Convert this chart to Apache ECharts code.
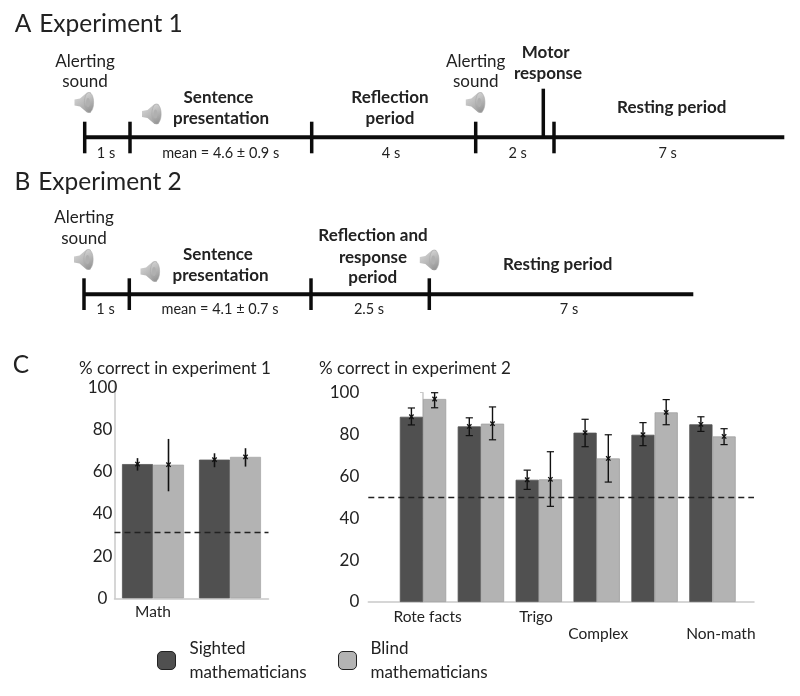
<!DOCTYPE html>
<html><head><meta charset="utf-8">
<style>html,body{margin:0;padding:0;background:#fff}#c{width:800px;height:696px}</style>
<script src="https://cdn.jsdelivr.net/npm/echarts@6/dist/echarts.min.js"></script>
</head><body><div id="c"></div>
<script>
const SIGHTED = 'Sighted mathematicians', BLIND = 'Blind mathematicians';
const exp1Categories = ['Math', 'Non-math'];
const exp1Sighted = [63.6, 65.7];
const exp1Blind = [63.3, 67.0];
const exp1SightedHigh = [66.4, 68.7];
const exp1SightedLow = [60.5, 62.1];
const exp1BlindHigh = [75.5, 71.1];
const exp1BlindLow = [50.7, 62.4];
const exp1Chance = 31.5;

const exp2Categories = ['Rote facts', 'Algebra', 'Trigo', 'Complex', 'Geometry', 'Non-math'];
const exp2Sighted = [88.5, 83.9, 58.4, 80.9, 79.9, 84.9];
const exp2Blind = [97.0, 85.2, 58.6, 68.6, 90.6, 79.1];
const exp2SightedHigh = [92.7, 88.0, 63.0, 87.3, 85.7, 88.5];
const exp2SightedLow = [84.6, 79.5, 53.8, 74.2, 74.7, 81.5];
const exp2BlindHigh = [100, 93.2, 71.8, 79.9, 96.7, 82.8];
const exp2BlindLow = [92.8, 77.5, 45.7, 57.3, 84.7, 75.2];
const exp2Chance = 50;
const exp2LabelShift = [0.08, 0.035, -0.047, 0.026, 0.045, 0.145];

const FONT = 'Lato, "Open Sans", sans-serif';
const INK = '#222';
const DARK = '#505050', LIGHT = '#b3b3b3';

function errorSeries(highs, lows, means, side, halfBar, cap, grid, width) {
  return {
    type: 'custom', xAxisIndex: grid, yAxisIndex: grid, z: 5, silent: true, clip: false,
    data: highs.map((h, i) => [i, h, lows[i], means[i]]),
    encode: { x: 0, y: [1, 2] },
    renderItem(params, api) {
      const i = api.value(0);
      const top = api.coord([i, api.value(1)]);
      const bot = api.coord([i, api.value(2)]);
      const mid = api.coord([i, api.value(3)]);
      const x = top[0] + side * halfBar;
      const st = { stroke: '#111', lineWidth: width, fill: null };
      const line = (a, b, c, d, w) => ({ type: 'line', shape: { x1: a, y1: b, x2: c, y2: d }, style: Object.assign({}, st, w ? { lineWidth: w } : {}) });
      const kids = [line(x, top[1], x, bot[1])];
      if (cap) {
        kids.push(line(x - cap, top[1], x + cap, top[1], 1.2), line(x - cap, bot[1], x + cap, bot[1], 1.2));
      }
      kids.push(line(x - 2.2, mid[1] - 2.2, x + 2.2, mid[1] + 2.2, 1.3), line(x - 2.2, mid[1] + 2.2, x + 2.2, mid[1] - 2.2, 1.3));
      return { type: 'group', children: kids };
    }
  };
}

function bar(name, data, color, border, width, grid, extra) {
  return Object.assign({
    name, type: 'bar', data, barWidth: width, barGap: 0,
    xAxisIndex: grid, yAxisIndex: grid, z: 2,
    itemStyle: { color, borderColor: border, borderWidth: 0.8 }
  }, extra || {});
}
const chance = v => ({
  silent: true, symbol: 'none', z: 6, animation: false,
  label: { show: false },
  lineStyle: { color: '#222', type: [6, 4], width: 1.3 },
  data: [{ yAxis: v }]
});

/* ---- timeline diagram pieces ---- */
const T = [];
const txt = (s, x, y, size, bold, align) => T.push({
  type: 'text', x, y, silent: true,
  style: { text: s, fontFamily: FONT, fontSize: size, fontWeight: bold ? 700 : 400, fill: INK, align: align || 'center', verticalAlign: 'middle' }
});
const rule = (x1, y1, x2, y2, w) => T.push({
  type: 'line', silent: true, shape: { x1, y1, x2, y2 }, style: { stroke: '#0c0c0c', lineWidth: w }
});
const speaker = (cx, cy) => {
  const grad = (a, b) => ({ type: 'linear', x: 0, y: 0, x2: 1, y2: 1, colorStops: [{ offset: 0, color: a }, { offset: 1, color: b }] });
  T.push({ type: 'polygon', silent: true, shape: { points: [[cx - 9.5, cy - 3], [cx - 4, cy - 4], [cx + 3, cy - 10], [cx + 7, cy - 10], [cx + 7, cy + 10], [cx + 3, cy + 10], [cx - 4, cy + 4], [cx - 9.5, cy + 3]] }, style: { fill: grad('#dcdcdc', '#9a9a9a') } });
  T.push({ type: 'ellipse', silent: true, shape: { cx: cx + 5, cy, rx: 4.6, ry: 10 }, style: { fill: grad('#d8d8d8', '#8c8c8c'), stroke: '#a8a8a8', lineWidth: 0.6 } });
  T.push({ type: 'ellipse', silent: true, shape: { cx: cx + 4, cy, rx: 2, ry: 4.5 }, style: { fill: '#b0b0b0' } });
};
const MAIN = 17, SMALL = 14.5, HEAD = 24.5;
// Panel A
txt('A', 23, 24.5, HEAD); txt('Experiment 1', 111, 24.5, HEAD);
rule(84, 137.3, 784.3, 137.3, 4);
[84.7, 130, 311.7, 475.7, 554].forEach(x => rule(x, 121.7, x, 153.3, 3.5));
rule(543.3, 88.7, 543.3, 137, 3.5);
txt('Alerting', 85, 61.5, MAIN); txt('sound', 85, 82, MAIN);
txt('Sentence', 218.5, 97.5, MAIN, true); txt('presentation', 221, 118.5, MAIN, true);
txt('Reflection', 390, 97.5, MAIN, true); txt('period', 390, 118.5, MAIN, true);
txt('Alerting', 475.7, 61.5, MAIN); txt('sound', 475.7, 82, MAIN);
txt('Motor', 545.7, 52.5, MAIN, true); txt('response', 548, 73.5, MAIN, true);
txt('Resting period', 671.7, 108, MAIN, true);
txt('1 s', 106, 153, SMALL); txt('mean = 4.6 ± 0.9 s', 220.7, 153, SMALL);
txt('4 s', 391, 153, SMALL); txt('2 s', 517.7, 153, SMALL); txt('7 s', 667.7, 153, SMALL);
speaker(84, 102.5); speaker(151.5, 114); speaker(475.3, 102.5);
// Panel B
txt('B', 22.5, 181.7, HEAD); txt('Experiment 2', 110, 181.7, HEAD);
rule(84, 294.3, 693.3, 294.3, 4);
[84, 129.3, 311, 429.3].forEach(x => rule(x, 278.3, x, 310, 3.5));
txt('Alerting', 84, 218, MAIN); txt('sound', 84, 239, MAIN);
txt('Sentence', 218, 254.5, MAIN, true); txt('presentation', 220.5, 275.5, MAIN, true);
txt('Reflection and', 373, 236, MAIN, true); txt('response', 373, 257.5, MAIN, true); txt('period', 372.7, 278, MAIN, true);
txt('Resting period', 557.7, 264.5, MAIN, true);
txt('1 s', 105.5, 309.5, SMALL); txt('mean = 4.1 ± 0.7 s', 220, 309.5, SMALL);
txt('2.5 s', 369, 309.5, SMALL); txt('7 s', 569, 309.5, SMALL);
speaker(83.5, 259.5); speaker(150, 271.5); speaker(429.3, 260);
// Panel C headings
txt('C', 21, 365, HEAD);
txt('% correct in experiment 1', 79, 369, MAIN, false, 'left');
txt('% correct in experiment 2', 319, 369, MAIN, false, 'left');

const axisGrey = '#c9c9c9';
const barLabel = { fontFamily: FONT, fontSize: 15.5, color: INK };
const yLabel = { fontFamily: FONT, fontSize: 17, color: INK, padding: [6, 0, 0, 0] };

const option = {
  animation: false,
  backgroundColor: '#fff',
  grid: [
    { left: 114.5, width: 154, top: 383, height: 215.3 },
    { left: 368.3, width: 385.7, top: 392.7, height: 209.3 }
  ],
  xAxis: [
    { type: 'category', gridIndex: 0, data: exp1Categories, axisTick: { show: false },
      axisLine: { lineStyle: { color: axisGrey, width: 1.5 } },
      axisLabel: Object.assign({}, barLabel, { margin: 6 }) },
    { type: 'value', gridIndex: 1, min: -0.945, max: 5.717, splitLine: { show: false }, axisTick: { show: false },
      axisLine: { lineStyle: { color: axisGrey, width: 1.5 } },
      axisLabel: Object.assign({}, barLabel, {
        margin: 6, lineHeight: 17, hideOverlap: false, showMinLabel: true, showMaxLabel: true,
        customValues: exp2LabelShift.map((s, i) => i + s),
        formatter: v => { const i = Math.round(v); return (i % 2 ? '\n' : '') + exp2Categories[i]; }
      }) }
  ],
  yAxis: [
    { type: 'value', gridIndex: 0, min: 0, max: 102, interval: 20, splitLine: { show: false }, axisTick: { show: false },
      axisLine: { show: true, lineStyle: { color: axisGrey, width: 1.5 } },
      axisLabel: Object.assign({}, yLabel, { align: 'center', margin: 12, showMaxLabel: false }) },
    { type: 'value', gridIndex: 1, min: 0, max: 100, interval: 20, splitLine: { show: false },
      axisTick: { show: true, length: 3, lineStyle: { color: axisGrey } },
      axisLine: { show: true, lineStyle: { color: axisGrey, width: 1.5 } },
      axisLabel: Object.assign({}, yLabel, { margin: 9 }) }
  ],
  legend: [
    { left: 157, top: 637, selectedMode: false, data: [SIGHTED], itemWidth: 18, itemHeight: 18, itemGap: 0, padding: 0,
      formatter: s => s.replace(' ', '\n'),
      textStyle: { fontFamily: FONT, fontSize: MAIN, lineHeight: 23.5, color: INK, padding: [0, 0, 0, 9] },
      itemStyle: { borderColor: '#222', borderWidth: 1 } },
    { left: 338, top: 637, selectedMode: false, data: [BLIND], itemWidth: 18, itemHeight: 18, itemGap: 0, padding: 0,
      formatter: s => s.replace(' ', '\n'),
      textStyle: { fontFamily: FONT, fontSize: MAIN, lineHeight: 23.5, color: INK, padding: [0, 0, 0, 9] },
      itemStyle: { borderColor: '#222', borderWidth: 1 } }
  ],
  graphic: { elements: T },
  series: [
    bar(SIGHTED, exp1Sighted, DARK, '#555', 31, 0, { markLine: chance(exp1Chance) }),
    bar(BLIND, exp1Blind, LIGHT, '#a8a8a8', 31, 0),
    bar(SIGHTED, exp2Sighted.map((v, i) => [i, v]), DARK, '#555', 23.2, 1, { markLine: chance(exp2Chance) }),
    bar(BLIND, exp2Blind.map((v, i) => [i, v]), LIGHT, '#a0a0a0', 23.2, 1),
    errorSeries(exp1SightedHigh, exp1SightedLow, exp1Sighted, -1, 15.5, 0, 0, 1.6),
    errorSeries(exp1BlindHigh, exp1BlindLow, exp1Blind, 1, 15.5, 0, 0, 1.6),
    errorSeries(exp2SightedHigh, exp2SightedLow, exp2Sighted, -1, 11.6, 3.6, 1, 1.4),
    errorSeries(exp2BlindHigh, exp2BlindLow, exp2Blind, 1, 11.6, 3.6, 1, 1.4)
  ]
};
echarts.init(document.getElementById('c'), null, { renderer: 'canvas' }).setOption(option);
</script></body></html>
